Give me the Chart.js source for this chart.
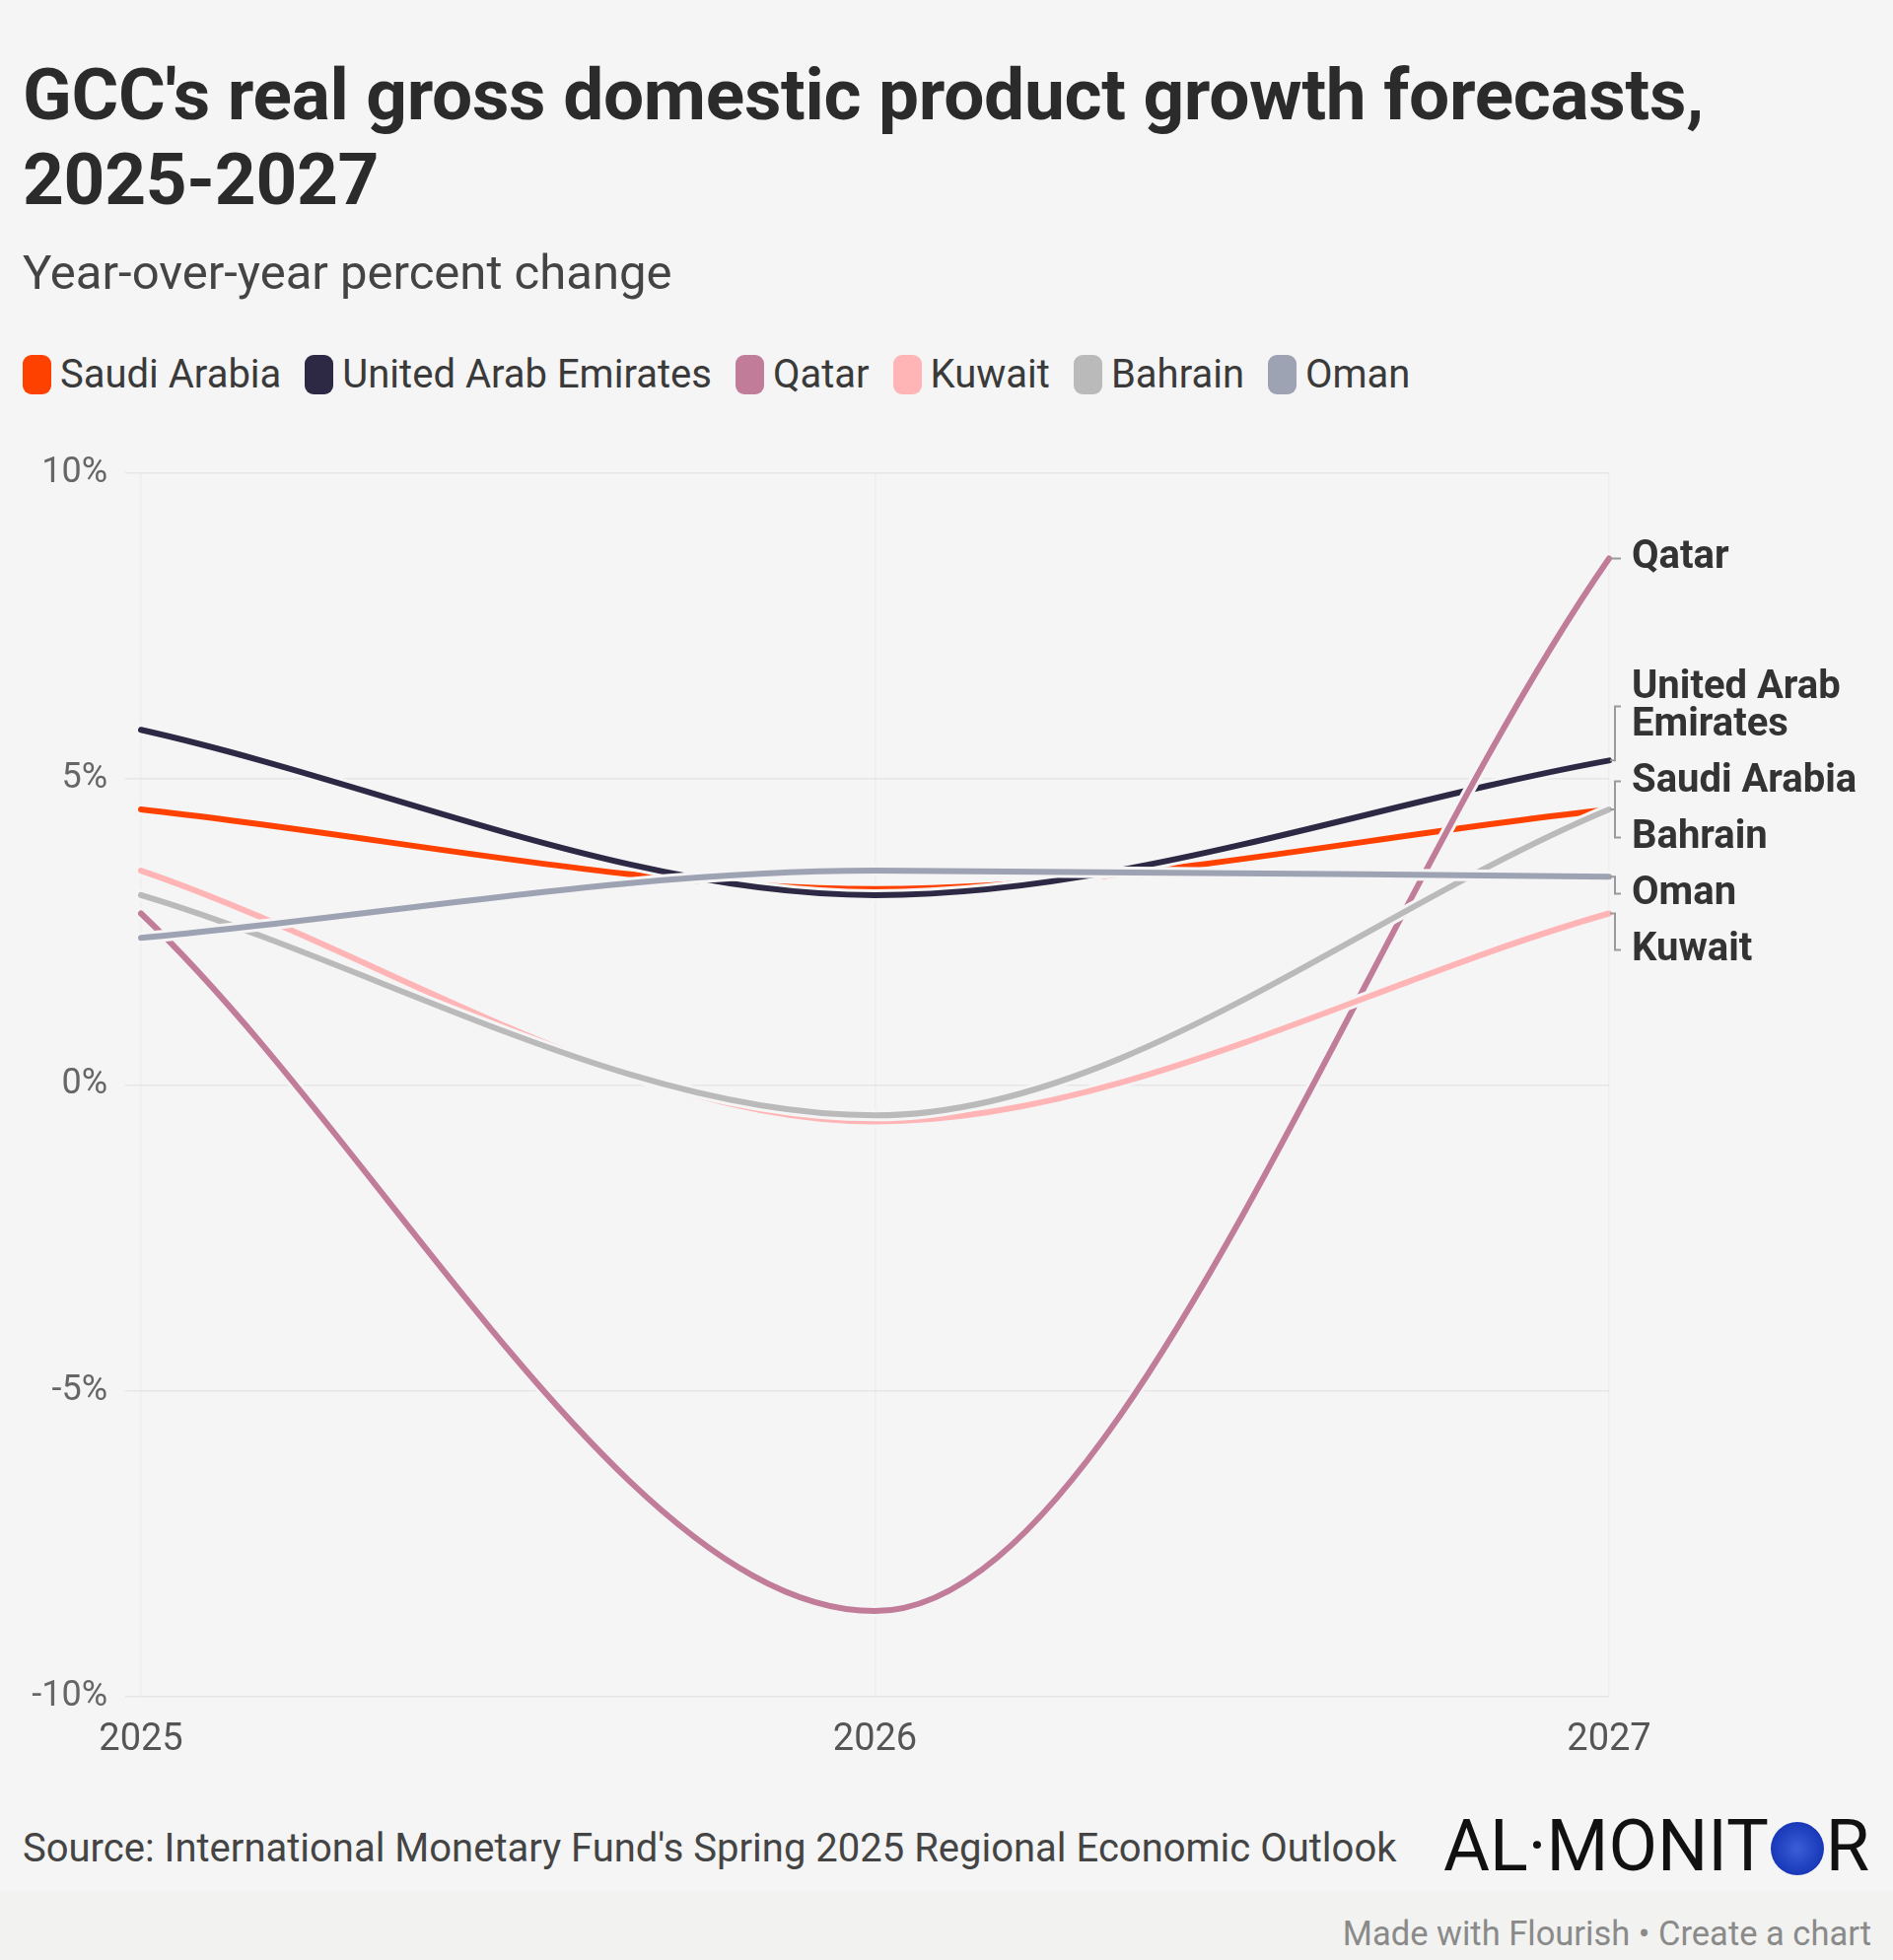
<!DOCTYPE html>
<html lang="en">
<head>
    <meta charset="UTF-8">
    <title>GCC real GDP growth forecasts</title>
    <script src="https://cdn.jsdelivr.net/npm/chart.js"></script>
    <style>
        html, body {
            margin: 0;
            padding: 0;
            background: #f5f5f5;
        }
        body {
            width: 1920px;
            height: 1988px;
            position: relative;
            overflow: hidden;
            font-family: Roboto, Arial, sans-serif;
        }
        h1 {
            position: absolute;
            left: 23px;
            top: 53px;
            width: 1800px;
            margin: 0;
            font-size: 73px;
            line-height: 86px;
            font-weight: 700;
            color: #2b2b2b;
            letter-spacing: -0.3px;
        }
        .subtitle {
            position: absolute;
            left: 23px;
            top: 248px;
            margin: 0;
            font-size: 49px;
            color: #444;
        }
        #legend {
            position: absolute;
            left: 23px;
            top: 356px;
            display: flex;
            align-items: center;
            font-size: 40px;
            color: #3a3a3a;
        }
        .item {
            display: flex;
            align-items: center;
            margin-right: 24px;
        }
        .swatch {
            width: 29px;
            height: 40px;
            border-radius: 9px;
            margin-right: 9px;
        }
        .chart-box {
            position: absolute;
            left: 0;
            top: 440px;
            width: 1920px;
            height: 1360px;
        }
        .source {
            position: absolute;
            left: 23px;
            top: 1851px;
            font-size: 40px;
            color: #444;
        }
        .logo {
            position: absolute;
            left: 1464px;
            top: 1830px;
            font-size: 72px;
            font-weight: 400;
            color: #111;
            letter-spacing: 0px;
            display: flex;
            align-items: center;
        }
        .globe {
            display: inline-block;
            width: 54px;
            height: 54px;
            border-radius: 50%;
            background: radial-gradient(circle, #3b5ed8 0%, #1838b8 70%, #102a9a 100%);
            margin: 0 2px;
            position: relative;
            top: 2px;
        }
        .strip {
            position: absolute;
            left: 0;
            top: 1918px;
            width: 1920px;
            height: 70px;
            background: #f2f2f0;
        }
        .made {
            position: absolute;
            right: 22px;
            top: 1941px;
            font-size: 34.5px;
            color: #8a8a8a;
        }
    </style>
</head>
<body>
    <h1>GCC's real gross domestic product growth forecasts, 2025-2027</h1>
    <p class="subtitle">Year-over-year percent change</p>
    <div id="legend"></div>
    <div class="chart-box">
        <canvas id="gdpChart"></canvas>
    </div>
    <div class="source">Source: International Monetary Fund's Spring 2025 Regional Economic Outlook</div>
    <div class="logo">AL·MONIT<span class="globe"></span>R</div>
    <div class="strip"></div>
    <div class="made">Made with Flourish • Create a chart</div>

    <script>
        const years = ['2025', '2026', '2027'];
        const yTicks = [-10, -5, 0, 5, 10];

        const countries = ['Saudi Arabia', 'United Arab Emirates', 'Qatar', 'Kuwait', 'Bahrain', 'Oman'];
        const colors = ['#ff4100', '#2d2843', '#c07c98', '#ffb4b6', '#bababa', '#9ea3b3'];
        const endLabels = [['Saudi Arabia'], ['United Arab', 'Emirates'], ['Qatar'], ['Kuwait'], ['Bahrain'], ['Oman']];

        const saudiArabia = [4.5, 3.2, 4.5];
        const uae = [5.8, 3.1, 5.3];
        const qatar = [2.8, -8.6, 8.6];
        const kuwait = [3.5, -0.6, 2.8];
        const bahrain = [3.1, -0.5, 4.5];
        const oman = [2.4, 3.5, 3.4];
        const series = [saudiArabia, uae, qatar, kuwait, bahrain, oman];

        const BG = '#f5f5f5';

        // legend
        const legend = document.getElementById('legend');
        countries.forEach((name, i) => {
            const item = document.createElement('div');
            item.className = 'item';
            item.innerHTML = '<span class="swatch" style="background:' + colors[i] + '"></span>' + name;
            legend.appendChild(item);
        });

        // later series sit on top, each line gets a thin halo in the background colour
        const datasets = [];
        series.forEach((values, i) => {
            const order = (series.length - 1 - i) * 2;
            datasets.push({
                label: countries[i],
                data: values,
                borderColor: colors[i],
                borderWidth: 6,
                order: order
            });
            datasets.push({
                label: countries[i] + ' halo',
                data: values,
                borderColor: BG,
                borderWidth: 12,
                order: order + 1
            });
        });

        // labels at the right end of each line, pushed apart when they overlap
        const endLabelPlugin = {
            id: 'endLabels',
            afterDatasetsDraw(chart) {
                const ctx = chart.ctx;
                const area = chart.chartArea;
                const lineH = 38;
                const items = series.map((values, i) => {
                    const meta = chart.getDatasetMeta(i * 2);
                    const pt = meta.data[meta.data.length - 1];
                    const lines = endLabels[i];
                    return { i, target: pt.y, lines, h: lines.length * lineH + 19 };
                }).sort((a, b) => a.target - b.target);

                // cluster placement
                let groups = items.map(it => ({ items: [it] }));
                const place = g => {
                    let off = 0, sum = 0;
                    g.items.forEach(it => { it.off = off + it.h / 2; off += it.h; sum += it.target - it.off; });
                    g.top = sum / g.items.length;
                    g.bottom = g.top + off;
                };
                groups.forEach(place);
                let merged = true;
                while (merged) {
                    merged = false;
                    for (let k = 0; k < groups.length - 1; k++) {
                        if (groups[k].bottom > groups[k + 1].top) {
                            groups[k].items = groups[k].items.concat(groups[k + 1].items);
                            groups.splice(k + 1, 1);
                            place(groups[k]);
                            merged = true;
                            break;
                        }
                    }
                }

                const bx = area.right + 6;
                ctx.save();
                groups.forEach(g => {
                    g.items.forEach(it => {
                        const cy = g.top + it.off;
                        ctx.strokeStyle = '#9a9a9a';
                        ctx.lineWidth = 2;
                        ctx.beginPath();
                        ctx.moveTo(area.right + 1, it.target);
                        ctx.lineTo(bx, it.target);
                        ctx.lineTo(bx, cy);
                        ctx.lineTo(bx + 6, cy);
                        ctx.stroke();

                        ctx.fillStyle = '#333';
                        ctx.font = '700 40px Roboto, Arial, sans-serif';
                        ctx.textBaseline = 'middle';
                        ctx.textAlign = 'left';
                        const first = cy - (it.lines.length - 1) * lineH / 2;
                        it.lines.forEach((t, j) => ctx.fillText(t, area.right + 23, first + j * lineH));
                    });
                });
                ctx.restore();
            }
        };

        const ctx = document.getElementById('gdpChart').getContext('2d');
        new Chart(ctx, {
            type: 'line',
            data: { labels: years, datasets: datasets },
            options: {
                responsive: true,
                maintainAspectRatio: false,
                animation: false,
                layout: { padding: { top: 38, right: 288, left: 0, bottom: 0 } },
                elements: {
                    point: { radius: 0, hoverRadius: 0 },
                    line: { cubicInterpolationMode: 'monotone', fill: false, borderCapStyle: 'round' }
                },
                plugins: {
                    legend: { display: false },
                    tooltip: { enabled: false }
                },
                scales: {
                    x: {
                        offset: false,
                        afterFit(scale) { scale.height = 79; },
                        border: { display: false },
                        grid: { color: '#eeeeee', lineWidth: 1.5, drawTicks: false },
                        ticks: {
                            padding: 22,
                            color: '#555',
                            font: { family: 'Roboto, Arial, sans-serif', size: 38 },
                            maxRotation: 0
                        }
                    },
                    y: {
                        min: -10,
                        max: 10,
                        afterFit(scale) { scale.width = 143; },
                        afterBuildTicks(scale) { scale.ticks = yTicks.map(v => ({ value: v })); },
                        border: { display: false },
                        grid: { color: '#e6e6e6', lineWidth: 1.5, drawTicks: true, tickLength: 16, tickColor: '#e6e6e6' },
                        ticks: {
                            padding: 18,
                            color: '#666',
                            font: { family: 'Roboto, Arial, sans-serif', size: 36 },
                            callback: v => v + '%'
                        }
                    }
                }
            },
            plugins: [endLabelPlugin]
        });
    </script>
</body>
</html>
